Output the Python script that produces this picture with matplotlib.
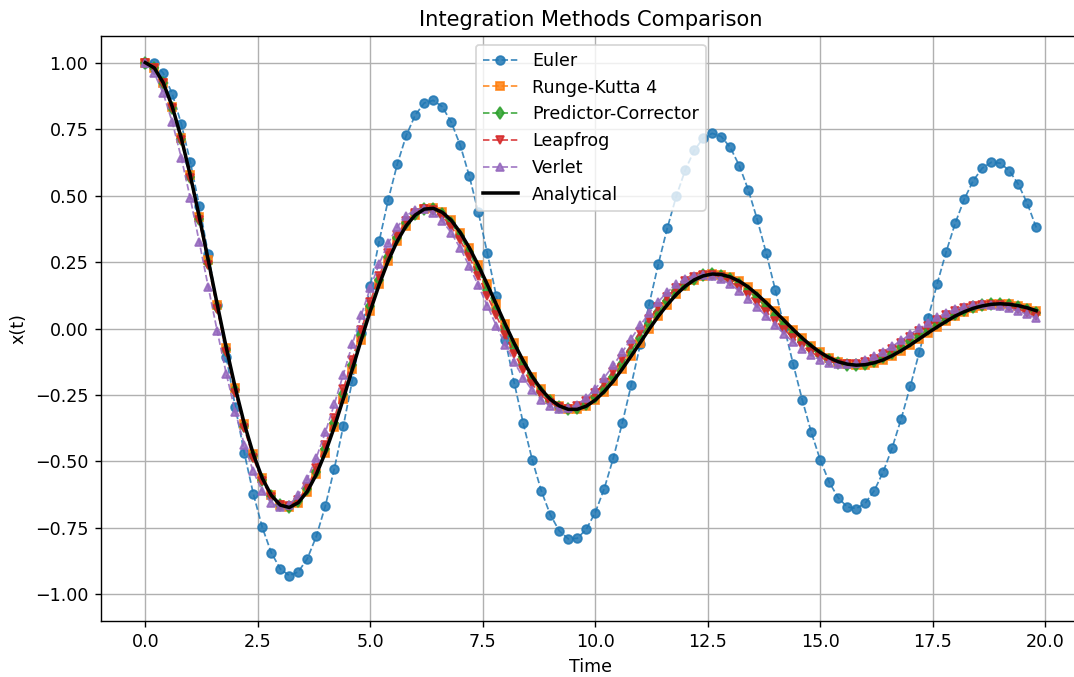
import matplotlib.pyplot as plt

# time grid (dt = 0.2)
t = [0.0, 0.2, 0.4, 0.6, 0.8, 1.0, 1.2, 1.4, 1.6, 1.8,
     2.0, 2.2, 2.4, 2.6, 2.8, 3.0, 3.2, 3.4, 3.6, 3.8,
     4.0, 4.2, 4.4, 4.6, 4.8, 5.0, 5.2, 5.4, 5.6, 5.8,
     6.0, 6.2, 6.4, 6.6, 6.8, 7.0, 7.2, 7.4, 7.6, 7.8,
     8.0, 8.2, 8.4, 8.6, 8.8, 9.0, 9.2, 9.4, 9.6, 9.8,
     10.0, 10.2, 10.4, 10.6, 10.8, 11.0, 11.2, 11.4, 11.6, 11.8,
     12.0, 12.2, 12.4, 12.6, 12.8, 13.0, 13.2, 13.4, 13.6, 13.8,
     14.0, 14.2, 14.4, 14.6, 14.8, 15.0, 15.2, 15.4, 15.6, 15.8,
     16.0, 16.2, 16.4, 16.6, 16.8, 17.0, 17.2, 17.4, 17.6, 17.8,
     18.0, 18.2, 18.4, 18.6, 18.8, 19.0, 19.2, 19.4, 19.6, 19.8]

x_euler = [1.000, 1.000, 0.960, 0.882, 0.770, 0.627, 0.462, 0.279, 0.087, -0.107,
           -0.294, -0.468, -0.621, -0.748, -0.843, -0.904, -0.929, -0.915, -0.866, -0.782,
           -0.668, -0.528, -0.368, -0.196, -0.017, 0.161, 0.330, 0.485, 0.618, 0.726,
           0.803, 0.848, 0.858, 0.834, 0.776, 0.689, 0.574, 0.438, 0.285, 0.123,
           -0.043, -0.205, -0.357, -0.494, -0.610, -0.700, -0.761, -0.791, -0.789, -0.755,
           -0.692, -0.602, -0.488, -0.356, -0.212, -0.060, 0.093, 0.241, 0.377, 0.497,
           0.596, 0.670, 0.716, 0.734, 0.722, 0.681, 0.613, 0.522, 0.410, 0.283,
           0.146, 0.005, -0.135, -0.268, -0.390, -0.494, -0.578, -0.637, -0.671, -0.677,
           -0.657, -0.610, -0.539, -0.448, -0.339, -0.218, -0.090, 0.041, 0.169, 0.289,
           0.396, 0.486, 0.556, 0.603, 0.625, 0.622, 0.594, 0.543, 0.471, 0.380]

x_rk4 = [1.000, 0.980, 0.924, 0.834, 0.716, 0.576, 0.420, 0.256, 0.090, -0.072,
         -0.223, -0.358, -0.472, -0.563, -0.627, -0.664, -0.673, -0.655, -0.613, -0.549,
         -0.467, -0.371, -0.265, -0.154, -0.042, 0.066, 0.166, 0.255, 0.329, 0.387,
         0.427, 0.449, 0.452, 0.437, 0.407, 0.361, 0.304, 0.238, 0.166, 0.091,
         0.016, -0.056, -0.122, -0.181, -0.229, -0.266, -0.291, -0.304, -0.304, -0.292,
         -0.269, -0.237, -0.198, -0.152, -0.103, -0.053, -0.002, 0.046, 0.089, 0.128,
         0.159, 0.183, 0.198, 0.205, 0.203, 0.194, 0.178, 0.156, 0.128, 0.097,
         0.064, 0.030, -0.004, -0.036, -0.065, -0.090, -0.110, -0.125, -0.134, -0.138,
         -0.136, -0.129, -0.118, -0.102, -0.083, -0.062, -0.039, -0.016, 0.006, 0.027,
         0.047, 0.063, 0.076, 0.085, 0.091, 0.093, 0.091, 0.086, 0.078, 0.067]

x_pc = [1.000, 0.980, 0.922, 0.831, 0.712, 0.570, 0.413, 0.248, 0.081, -0.081,
        -0.232, -0.367, -0.480, -0.569, -0.630, -0.664, -0.671, -0.650, -0.605, -0.538,
        -0.454, -0.355, -0.248, -0.136, -0.024, 0.083, 0.182, 0.268, 0.340, 0.395,
        0.432, 0.449, 0.448, 0.430, 0.395, 0.347, 0.287, 0.219, 0.146, 0.071,
        -0.004, -0.075, -0.139, -0.195, -0.240, -0.273, -0.294, -0.303, -0.299, -0.283,
        -0.258, -0.223, -0.181, -0.134, -0.084, -0.034, 0.016, 0.062, 0.104, 0.140,
        0.168, 0.188, 0.200, 0.204, 0.199, 0.186, 0.167, 0.142, 0.113, 0.081,
        0.047, 0.013, -0.019, -0.050, -0.077, -0.100, -0.117, -0.129, -0.136, -0.136,
        -0.132, -0.122, -0.108, -0.091, -0.070, -0.048, -0.026, -0.003, 0.019, 0.039,
        0.056, 0.070, 0.081, 0.088, 0.092, 0.091, 0.087, 0.080, 0.070, 0.057]

x_leapfrog = [1.000, 0.980, 0.922, 0.830, 0.709, 0.566, 0.407, 0.240, 0.072, -0.090,
              -0.241, -0.375, -0.487, -0.574, -0.634, -0.665, -0.668, -0.644, -0.596, -0.526,
              -0.439, -0.338, -0.229, -0.117, -0.005, 0.101, 0.198, 0.283, 0.351, 0.403,
              0.435, 0.449, 0.444, 0.421, 0.383, 0.331, 0.269, 0.199, 0.124, 0.049,
              -0.025, -0.094, -0.156, -0.209, -0.250, -0.280, -0.297, -0.301, -0.293, -0.273,
              -0.244, -0.206, -0.162, -0.114, -0.063, -0.013, 0.036, 0.080, 0.119, 0.152,
              0.177, 0.193, 0.201, 0.200, 0.192, 0.176, 0.154, 0.127, 0.096, 0.063,
              0.029, -0.004, -0.036, -0.065, -0.089, -0.109, -0.123, -0.132, -0.135, -0.133,
              -0.125, -0.113, -0.096, -0.077, -0.056, -0.033, -0.011, 0.011, 0.032, 0.050,
              0.065, 0.077, 0.085, 0.090, 0.090, 0.087, 0.081, 0.072, 0.060, 0.046]

x_verlet = [1.000, 0.960, 0.884, 0.776, 0.642, 0.490, 0.325, 0.156, -0.011, -0.170,
            -0.313, -0.437, -0.537, -0.611, -0.656, -0.673, -0.663, -0.626, -0.566, -0.486,
            -0.391, -0.285, -0.173, -0.060, 0.050, 0.153, 0.244, 0.321, 0.382, 0.424,
            0.447, 0.451, 0.436, 0.405, 0.360, 0.302, 0.235, 0.162, 0.086, 0.011,
            -0.061, -0.127, -0.185, -0.233, -0.268, -0.291, -0.302, -0.300, -0.286, -0.261,
            -0.227, -0.185, -0.139, -0.089, -0.038, 0.012, 0.059, 0.101, 0.137, 0.166,
            0.187, 0.199, 0.203, 0.198, 0.186, 0.166, 0.142, 0.112, 0.080, 0.046,
            0.012, -0.021, -0.051, -0.078, -0.100, -0.118, -0.129, -0.135, -0.135, -0.130,
            -0.120, -0.105, -0.087, -0.067, -0.045, -0.022, 0.001, 0.022, 0.042, 0.059,
            0.072, 0.082, 0.089, 0.091, 0.090, 0.085, 0.077, 0.066, 0.053, 0.039]

x_exact = [1.000, 0.980, 0.924, 0.834, 0.716, 0.576, 0.420, 0.256, 0.090, -0.072,
           -0.223, -0.358, -0.472, -0.563, -0.627, -0.664, -0.673, -0.655, -0.613, -0.549,
           -0.467, -0.371, -0.265, -0.154, -0.042, 0.066, 0.166, 0.255, 0.329, 0.387,
           0.427, 0.449, 0.452, 0.437, 0.407, 0.361, 0.304, 0.238, 0.166, 0.091,
           0.016, -0.056, -0.122, -0.181, -0.229, -0.266, -0.291, -0.304, -0.304, -0.292,
           -0.269, -0.237, -0.198, -0.152, -0.103, -0.053, -0.002, 0.046, 0.089, 0.128,
           0.159, 0.183, 0.198, 0.205, 0.203, 0.194, 0.178, 0.156, 0.128, 0.097,
           0.064, 0.030, -0.004, -0.036, -0.065, -0.090, -0.110, -0.125, -0.134, -0.138,
           -0.136, -0.129, -0.118, -0.102, -0.083, -0.062, -0.039, -0.016, 0.006, 0.027,
           0.047, 0.063, 0.076, 0.085, 0.091, 0.093, 0.091, 0.086, 0.078, 0.067]

DPI = 126
fig = plt.figure(figsize=(1074 / DPI, 677 / DPI), dpi=DPI)
# axes run a little past the right edge, like the reference crop
ax = fig.add_axes([0.0938, 0.0827, 0.9125, 0.8641])

ax.plot(t, x_euler, 'o--', lw=1, ms=5, alpha=0.85, label='Euler')
ax.plot(t, x_rk4, 's--', lw=1, ms=5, alpha=0.85, label='Runge-Kutta 4')
ax.plot(t, x_pc, 'd--', lw=1, ms=5, alpha=0.85, label='Predictor-Corrector')
ax.plot(t, x_leapfrog, 'v--', lw=1, ms=5, alpha=0.85, label='Leapfrog')
ax.plot(t, x_verlet, '^--', lw=1, ms=5, alpha=0.85, label='Verlet')
ax.plot(t, x_exact, 'k-', lw=2, label='Analytical')

ax.set_xlim(-0.99, 20.79)
ax.set_ylim(-1.1, 1.1)
ax.set_xlabel('Time')
ax.set_ylabel('x(t)')
ax.set_title('Integration Methods Comparison')
ax.legend(loc='upper center')
ax.grid(True)

fig.savefig('out.png', dpi=DPI)
